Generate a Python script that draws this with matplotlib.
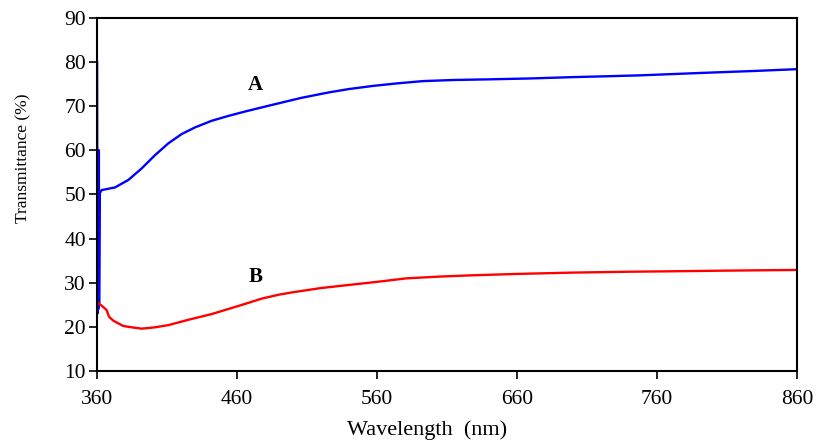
import matplotlib
matplotlib.use("Agg")
import matplotlib.pyplot as plt

# Transmittance spectra of samples A and B
wl_a = [360.1, 360.3, 360.45, 360.6, 360.75, 360.9, 361.05, 361.2, 361.35, 361.5,
        362, 363.3, 372.9, 382.4, 391.9, 401.4, 411, 420.5, 430, 441.9, 453.8,
        465.7, 485, 506, 525, 540, 557, 575, 593, 615, 641, 670, 700, 725, 748,
        772, 796, 830, 860]
t_a = [80, 23, 60, 23.5, 60, 24, 60, 24.5, 60, 25,
       50.3, 51.0, 51.6, 53.3, 55.9, 58.9, 61.6, 63.7, 65.2, 66.7, 67.8,
       68.8, 70.3, 71.9, 73.1, 73.9, 74.6, 75.2, 75.7, 75.95, 76.1, 76.3, 76.6, 76.8, 77.0,
       77.3, 77.6, 78.0, 78.4]

wl_b = [361.4, 364.5, 366.9, 368.6, 371.7, 375.2, 378.8, 384.8, 391.9, 401.4,
        411, 425.2, 441.9, 465.7, 477.6, 490, 501, 520, 537, 560, 581, 605,
        629, 660, 700, 740, 771, 810, 860]
t_b = [25.3, 24.5, 23.8, 22.3, 21.4, 20.8, 20.2, 19.9, 19.6, 19.9,
       20.4, 21.6, 22.9, 25.2, 26.4, 27.3, 27.9, 28.8, 29.4, 30.2, 31.0, 31.4,
       31.7, 32.0, 32.3, 32.5, 32.6, 32.75, 32.9]

plt.rcParams['font.family'] = ['Liberation Serif', 'DejaVu Serif']

fig = plt.figure(figsize=(8.17, 4.44), dpi=100)
ax = fig.add_axes([0.1187, 0.1644, 0.8568, 0.7951])

ax.plot(wl_a, t_a, color='#0000ff', lw=1.7, solid_joinstyle='round')
ax.plot(wl_b, t_b, color='#ff0000', lw=1.7, solid_joinstyle='round')

ax.text(473, 74.8, 'A', fontsize=15, fontweight='bold', ha='center', va='center')
ax.text(473, 31.3, 'B', fontsize=15, fontweight='bold', ha='center', va='center')

ax.set_xlim(360, 860)
ax.set_ylim(10, 90)
ax.set_xticks(range(360, 861, 100))
ax.set_yticks(range(10, 91, 10))
ax.tick_params(direction='out', length=6, width=1.2, labelsize=15.5)
ax.tick_params(axis='x', pad=8)
ax.tick_params(axis='y', pad=2)
for s in ax.spines.values():
    s.set_linewidth(1.5)

ax.set_xlabel('Wavelength  (nm)', fontsize=16)
ax.set_ylabel('Transmittance (%)', fontsize=12.5)
ax.xaxis.set_label_coords(0.472, -0.14)
ax.yaxis.set_label_coords(-0.094, 0.603)

fig.savefig('out.png', dpi=100)
